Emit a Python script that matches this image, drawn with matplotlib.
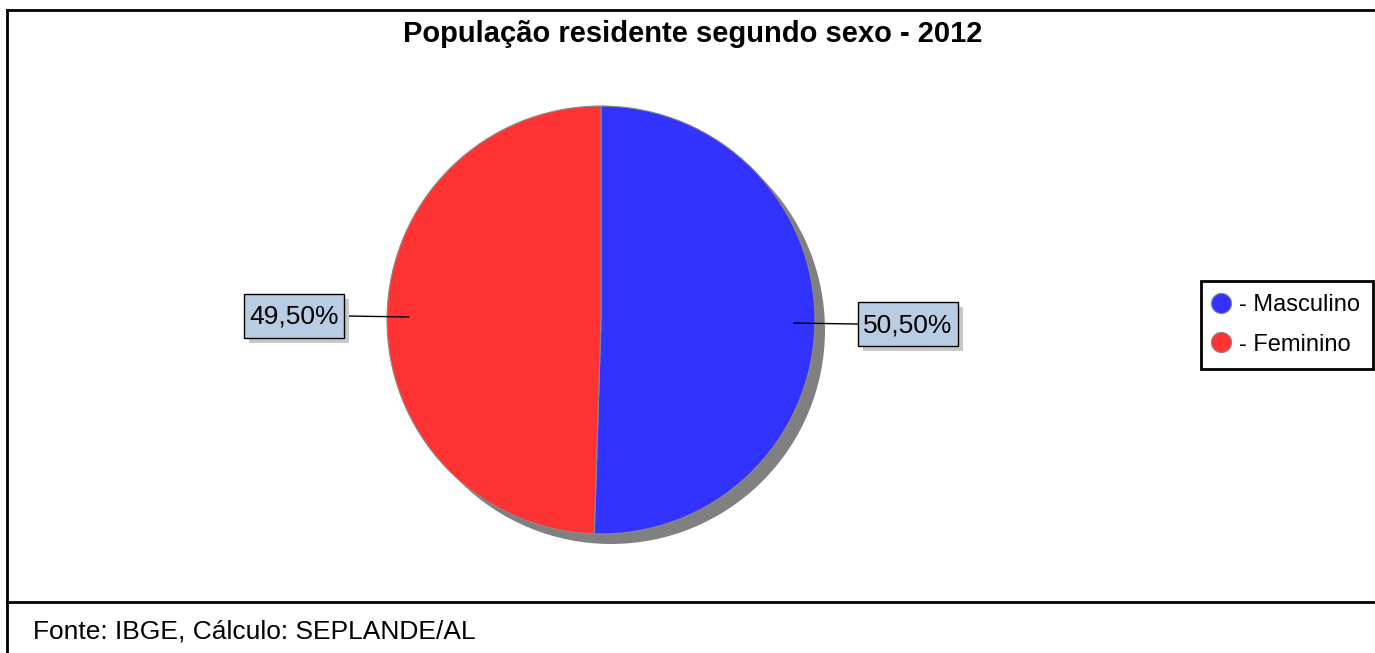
import matplotlib
matplotlib.use("Agg")
import matplotlib.pyplot as plt
import numpy as np
from matplotlib.patches import Circle, Rectangle
from matplotlib.lines import Line2D

title = "População residente segundo sexo - 2012"
categories = ["Masculino", "Feminino"]
values = [50.50, 49.50]
colors = ["#3333FF", "#FF3333"]
labels = ["50,50%", "49,50%"]
source = "Fonte: IBGE, Cálculo: SEPLANDE/AL"

W, H = 1375, 653
plt.rcParams['font.family'] = ['Liberation Sans', 'DejaVu Sans']
fig = plt.figure(figsize=(W / 100, H / 100), dpi=100)
ax = fig.add_axes([0, 0, 1, 1])

cx, cy, r = 601, 320, 214

# shadow
ax.add_patch(Circle((cx + 10, cy + 10), r, facecolor="#808080", edgecolor="none", zorder=1))

# y axis is inverted: data angle -90 is screen top, data counter-clockwise is screen clockwise
wedges, _ = ax.pie(values, colors=colors, startangle=-90, counterclock=True,
                   center=(cx, cy), radius=r, frame=True,
                   wedgeprops=dict(edgecolor="#8a8a8a", linewidth=0.8, zorder=2))
ax.set_xlim(0, W)
ax.set_ylim(H, 0)
ax.set_aspect("equal")
ax.axis("off")

# labels
start = 90.0
for v, lab in zip(values, labels):
    span = 360.0 * v / sum(values)
    mid = start - span / 2.0
    start -= span
    ang = np.deg2rad(mid)
    dx, dy = np.cos(ang), -np.sin(ang)
    x0, y0 = cx + 0.9 * r * dx, cy + 0.9 * r * dy
    x1, y1 = cx + 1.2 * r * dx, cy + 1.2 * r * dy
    ax.plot([x0, x1], [y0, y1], color="black", lw=1, zorder=5)
    bw, bh = 100, 44
    bx = x1 if dx > 0 else x1 - bw
    by = y1 - bh / 2
    ax.add_patch(Rectangle((bx + 5, by + 5), bw, bh, facecolor="#C8C8C8", edgecolor="none", zorder=5))
    ax.add_patch(Rectangle((bx, by), bw, bh, facecolor="#B8CCE4", edgecolor="black", lw=1, zorder=6))
    ax.text(bx + bw / 2, by + bh / 2 + 1, lab, ha="center", va="center", fontsize=19, zorder=7)

# title
ax.text(693, 34, title, ha="center", va="center", fontsize=21, fontweight="bold")

# frame lines
ax.plot([7, W], [10, 10], color="black", lw=2)
ax.plot([7, 7], [10, H], color="black", lw=2)
ax.plot([7, W], [602, 602], color="black", lw=2)

# source
ax.text(33, 632, source, ha="left", va="center", fontsize=19)

# legend
handles = [Line2D([], [], marker="o", linestyle="none", markersize=14.5,
                  markerfacecolor=c, markeredgecolor="#8a8a8a", markeredgewidth=0.8)
           for c in colors]
leg = fig.legend(handles, ["- " + c for c in categories], loc="upper left",
                 bbox_to_anchor=(1201 / W, 1 - 281 / H), borderaxespad=0,
                 fontsize=17, frameon=True, fancybox=False, handletextpad=0.45,
                 handlelength=0.6, borderpad=0.55, labelspacing=0.75, framealpha=1)
leg.get_frame().set_edgecolor("black")
leg.get_frame().set_linewidth(2)

fig.savefig("out.png", dpi=100)
